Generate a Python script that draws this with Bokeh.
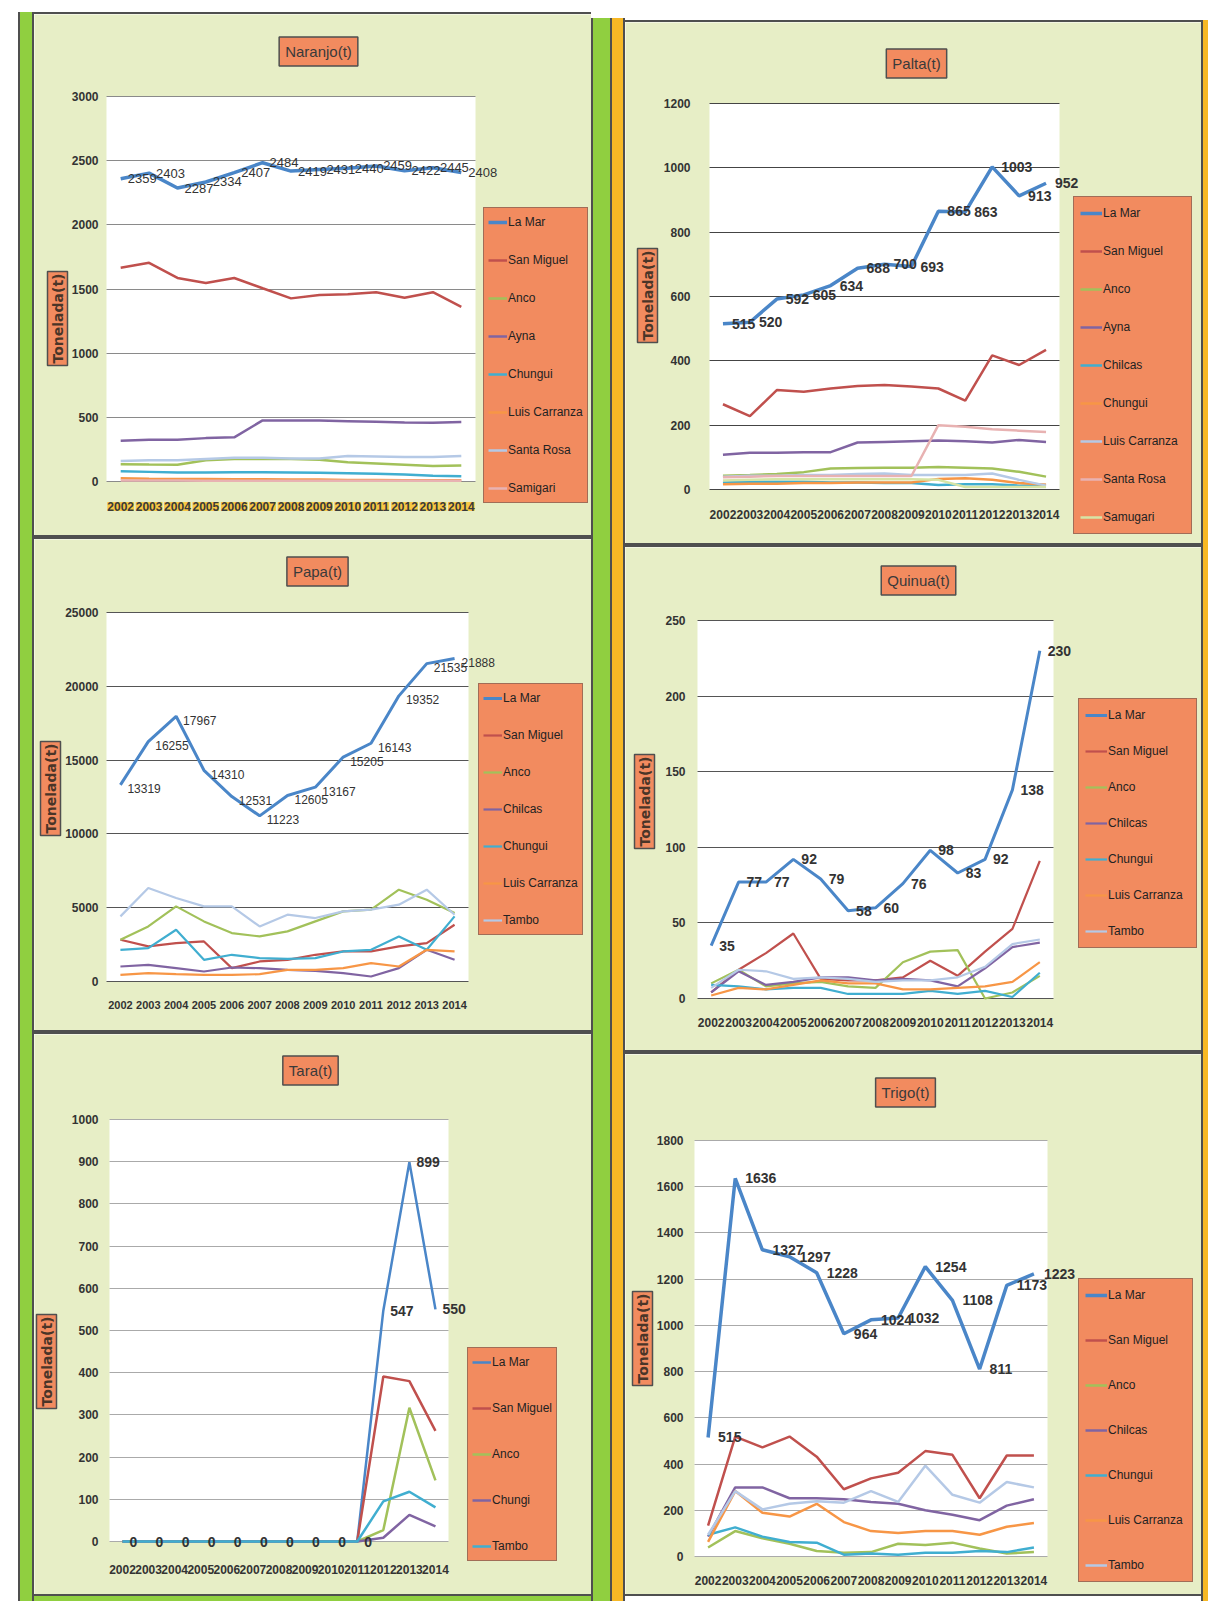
from math import pi
from bokeh.plotting import figure
from bokeh.models import (Range1d, FixedTicker, Label, LabelSet, ColumnDataSource,
                          Legend, LegendItem, Div, BoxAnnotation, Grid)
from bokeh.layouts import row, column
from bokeh.embed import file_html
from bokeh.resources import INLINE
from bokeh.core.properties import value

years = [2002, 2003, 2004, 2005, 2006, 2007, 2008, 2009, 2010, 2011, 2012, 2013, 2014]

# ---------------- Naranjo(t)
naranjo_names = ["La Mar", "San Miguel", "Anco", "Ayna", "Chungui", "Luis Carranza", "Santa Rosa", "Samigari"]
naranjo_la_mar = [2359, 2403, 2287, 2334, 2407, 2484, 2419, 2431, 2440, 2459, 2422, 2445, 2408]
naranjo_san_miguel = [1665, 1704, 1586, 1546, 1586, 1506, 1427, 1454, 1459, 1475, 1432, 1475, 1361]
naranjo_anco = [135, 132, 130, 165, 175, 175, 175, 170, 150, 140, 130, 120, 125]
naranjo_ayna = [317, 325, 325, 338, 344, 476, 476, 475, 470, 465, 460, 458, 463]
naranjo_chungui = [79, 75, 70, 70, 72, 72, 70, 68, 65, 60, 55, 45, 40]
naranjo_luis_carranza = [25, 22, 20, 20, 18, 18, 15, 15, 12, 12, 10, 10, 10]
naranjo_santa_rosa = [159, 165, 165, 175, 185, 185, 180, 180, 198, 195, 190, 190, 198]
naranjo_samigari = [8, 8, 7, 6, 6, 5, 5, 5, 5, 5, 5, 5, 5]
naranjo_yticks = [0, 500, 1000, 1500, 2000, 2500, 3000]

# ---------------- Palta(t)
palta_names = ["La Mar", "San Miguel", "Anco", "Ayna", "Chilcas", "Chungui", "Luis Carranza", "Santa Rosa", "Samugari"]
palta_la_mar = [515, 520, 592, 605, 634, 688, 700, 693, 865, 863, 1003, 913, 952]
palta_san_miguel = [265, 228, 309, 304, 314, 322, 325, 320, 314, 276, 417, 387, 434]
palta_anco = [43, 45, 48, 54, 65, 67, 68, 68, 70, 68, 65, 55, 40]
palta_ayna = [108, 114, 114, 116, 116, 146, 148, 150, 152, 150, 146, 154, 148]
palta_chilcas = [22, 24, 24, 24, 22, 22, 20, 20, 14, 16, 16, 12, 14]
palta_chungui = [16, 18, 18, 20, 20, 22, 22, 22, 33, 35, 30, 20, 15]
palta_luis_carranza = [40, 43, 43, 45, 45, 48, 50, 45, 45, 45, 50, 30, 12]
palta_santa_rosa = [38, 40, 42, 42, 42, 42, 42, 42, 200, 195, 187, 183, 179]
palta_samugari = [28, 30, 32, 32, 32, 32, 32, 32, 30, 8, 8, 8, 8]
palta_yticks = [0, 200, 400, 600, 800, 1000, 1200]

# ---------------- Papa(t)
papa_names = ["La Mar", "San Miguel", "Anco", "Chilcas", "Chungui", "Luis Carranza", "Tambo"]
papa_la_mar = [13319, 16255, 17967, 14310, 12531, 11223, 12605, 13167, 15205, 16143, 19352, 21535, 21888]
papa_san_miguel = [2828, 2376, 2602, 2715, 905, 1357, 1470, 1810, 2036, 2036, 2376, 2602, 3846]
papa_anco = [2828, 3733, 5090, 4072, 3281, 3054, 3394, 4072, 4751, 4864, 6222, 5543, 4638]
papa_chilcas = [1018, 1131, 905, 679, 950, 905, 792, 724, 566, 339, 905, 2149, 1470]
papa_chungui = [2149, 2262, 3507, 1470, 1810, 1584, 1538, 1584, 2036, 2149, 3054, 2149, 4412]
papa_luis_carranza = [452, 566, 498, 452, 452, 498, 792, 792, 905, 1244, 1018, 2149, 2036]
papa_tambo = [4412, 6335, 5656, 5090, 5090, 3733, 4525, 4299, 4751, 4864, 5204, 6222, 4525]
papa_yticks = [0, 5000, 10000, 15000, 20000, 25000]

# ---------------- Quinua(t)
quinua_names = ["La Mar", "San Miguel", "Anco", "Chilcas", "Chungui", "Luis Carranza", "Tambo"]
quinua_la_mar = [35, 77, 77, 92, 79, 58, 60, 76, 98, 83, 92, 138, 230]
quinua_san_miguel = [4, 19, 30, 43, 13, 12, 12, 14, 25, 15, 31, 46, 91]
quinua_anco = [10, 19, 8, 10, 11, 8, 7, 24, 31, 32, 0, 4, 15]
quinua_chilcas = [4, 18, 9, 11, 14, 14, 12, 13, 12, 8, 20, 34, 37]
quinua_chungui = [9, 8, 6, 7, 7, 3, 3, 3, 5, 3, 5, 1, 17]
quinua_luis_carranza = [2, 7, 6, 9, 12, 10, 10, 6, 6, 7, 8, 11, 24]
quinua_tambo = [7, 19, 18, 13, 14, 13, 11, 12, 12, 14, 21, 36, 39]
quinua_yticks = [0, 50, 100, 150, 200, 250]

# ---------------- Tara(t)
tara_names = ["La Mar", "San Miguel", "Anco", "Chungi", "Tambo"]
tara_la_mar = [0, 0, 0, 0, 0, 0, 0, 0, 0, 0, 547, 899, 550]
tara_san_miguel = [0, 0, 0, 0, 0, 0, 0, 0, 0, 0, 391, 380, 262]
tara_anco = [0, 0, 0, 0, 0, 0, 0, 0, 0, 0, 27, 317, 145]
tara_chungi = [0, 0, 0, 0, 0, 0, 0, 0, 0, 0, 9, 63, 36]
tara_tambo = [0, 0, 0, 0, 0, 0, 0, 0, 0, 0, 95, 118, 81]
tara_yticks = [0, 100, 200, 300, 400, 500, 600, 700, 800, 900, 1000]

# ---------------- Trigo(t)
trigo_names = ["La Mar", "San Miguel", "Anco", "Chilcas", "Chungui", "Luis Carranza", "Tambo"]
trigo_la_mar = [515, 1636, 1327, 1297, 1228, 964, 1024, 1032, 1254, 1108, 811, 1173, 1223]
trigo_san_miguel = [134, 519, 472, 519, 432, 291, 338, 362, 456, 440, 252, 437, 437]
trigo_anco = [39, 110, 79, 55, 24, 16, 19, 55, 50, 60, 35, 13, 19]
trigo_chilcas = [86, 299, 299, 252, 252, 248, 236, 228, 200, 181, 157, 220, 248]
trigo_chungui = [94, 126, 86, 63, 60, 8, 13, 8, 16, 16, 24, 19, 39]
trigo_luis_carranza = [63, 283, 189, 173, 228, 149, 110, 102, 110, 110, 94, 129, 145]
trigo_tambo = [94, 283, 204, 228, 239, 233, 283, 236, 393, 267, 233, 322, 299]
trigo_yticks = [0, 200, 400, 600, 800, 1000, 1200, 1400, 1600, 1800]

# ---------------- styles
PALETTE = ["#4a86c8", "#c0504d", "#a2c15a", "#8064a2", "#40aed0", "#f79646",
           "#b5c9e6", "#e8b2b2", "#d6e4a6"]
PANEL_BG = "#e7eec6"
ORANGE = "#f28b5f"
DARK = "#4f4f4f"
GREEN = "#90cf40"
GOLD = "#f7b825"
SANS = "Liberation Sans"
WIDE = "DejaVu Sans"
X0, X1 = 2001.5, 2014.5


def make_panel(title, names, series, yticks, geom, ann, st):
    W, H, fl, fr, ft, fb = geom
    ymax = yticks[-1]
    fw, fh = W - fl - fr, H - ft - fb
    xs, ys = (X1 - X0) / fw, ymax / fh
    p = figure(width=W, height=H, min_border=0, min_border_left=0, min_border_right=0,
               min_border_top=0, min_border_bottom=0,
               x_range=Range1d(X0 - fl * xs, X1 + fr * xs),
               y_range=Range1d(-fb * ys, ymax + ft * ys),
               output_backend="svg", toolbar_location=None, tools="")
    p.border_fill_color = PANEL_BG
    p.background_fill_color = PANEL_BG
    p.outline_line_color = None
    # white plot area
    p.add_layout(BoxAnnotation(left=X0, right=X1, bottom=0, top=ymax, fill_color="white",
                               fill_alpha=1.0, line_color=None, level="image"))
    p.xgrid.visible = False
    p.ygrid.ticker = FixedTicker(ticks=yticks)
    p.ygrid.grid_line_color = st["grid"]
    p.ygrid.grid_line_width = 1.2
    if "cross_bounds" in Grid.properties():
        p.ygrid.cross_bounds = (X0, X1)
    else:
        p.ygrid.visible = False
        p.segment(x0=[X0] * len(yticks), x1=[X1] * len(yticks), y0=yticks, y1=yticks,
                  line_color=st["grid"], line_width=1.2)

    p.yaxis.fixed_location = X0
    p.xaxis.fixed_location = 0
    p.yaxis.ticker = FixedTicker(ticks=yticks)
    p.xaxis.ticker = FixedTicker(ticks=years)
    p.xaxis.major_label_overrides = {y: str(y) for y in years}
    for ax in (p.xaxis, p.yaxis):
        ax.axis_line_color = None
        ax.major_tick_line_color = None
        ax.minor_tick_line_color = None
        ax.major_tick_in = 0
        ax.major_tick_out = 0
        ax.major_label_text_font = SANS
        ax.major_label_text_color = "#333333"
        ax.major_label_text_font_style = "bold"
    p.yaxis.major_label_text_font_size = st["ytick_size"]
    p.yaxis.major_label_standoff = st["ystand"]
    p.xaxis.major_label_text_font_size = st["xtick_size"]
    p.xaxis.major_label_standoff = st["xstand"]

    items = []
    for i, (name, vals) in enumerate(zip(names, series)):
        lw = st["lw0"] if i == 0 else st["lw"]
        r = p.line(years, vals, line_color=PALETTE[i], line_width=lw)
        items.append(LegendItem(label=name, renderers=[r]))

    # data labels of La Mar
    src = ColumnDataSource(dict(x=years, y=series[0], t=[str(v) for v in series[0]]))
    p.add_layout(LabelSet(x="x", y="y", text="t", source=src, x_offset=st["lx"], y_offset=st["ly"],
                          text_align="left", text_baseline="middle",
                          text_font=value(SANS), text_font_size=st["lab_size"],
                          text_font_style=st["lab_style"], text_color="#333333"))

    if st.get("yellow_years"):
        p.xaxis.major_label_text_color = None
        ysrc = ColumnDataSource(dict(x=years, t=[str(y) for y in years]))
        p.add_layout(LabelSet(x="x", y=fb + st["yellow_y"], y_units="screen", text="t", source=ysrc,
                              text_align="center", text_baseline="middle",
                              text_font=value(SANS), text_font_size="12px",
                              text_font_style="bold", text_color="#3a3a3a",
                              background_fill_color="#f7c844"))

    lx, ly, lspace, lwid, lpad, lgw = ann["legend"]
    leg = Legend(items=items, location=(fl + lx, fb + ly), orientation="vertical",
                 background_fill_color=ORANGE, background_fill_alpha=1.0,
                 border_line_color=DARK, border_line_width=1.5,
                 label_text_font=SANS, label_text_font_size="12px",
                 label_text_color="#222222",
                 glyph_width=lgw, glyph_height=20, label_height=20,
                 label_standoff=1, spacing=lspace, padding=lpad, margin=0,
                 label_width=lwid)
    p.add_layout(leg)

    tx, ty = ann["title"]
    p.add_layout(Label(x=fl + tx, y=fb + ty, x_units="screen", y_units="screen", text=title,
                       text_align="center", text_baseline="middle",
                       text_font=SANS, text_font_size="15px", text_color="#3a3a3a",
                       background_fill_color=ORANGE, border_line_color=DARK,
                       border_line_width=1.5, padding=6))
    yx, yy = ann["ylabel"]
    p.add_layout(Label(x=fl + yx - 5, y=fb + yy, x_units="screen", y_units="screen", text="Tonelada(t)",
                       angle=pi / 2, text_align="center", text_baseline="middle",
                       text_font=WIDE, text_font_size="14px", text_font_style="bold",
                       text_color="#4a3528",
                       background_fill_color=ORANGE, border_line_color=DARK,
                       border_line_width=1.5, padding=2))
    return p


common = dict(lw0=3.5, lw=2.5, ytick_size="12px", xtick_size="12px", lx=7, ly=0,
              lab_size="14px", lab_style="bold")

naranjo = make_panel(
    "Naranjo(t)", naranjo_names,
    [naranjo_la_mar, naranjo_san_miguel, naranjo_anco, naranjo_ayna, naranjo_chungui,
     naranjo_luis_carranza, naranjo_santa_rosa, naranjo_samigari],
    naranjo_yticks, (557, 521, 72, 116, 82, 54),
    dict(title=(212, 430), ylabel=(-44, 163), legend=(377, -22, 18, 60, 4, 19)),
    dict(common, grid="#8a8a8a", ystand=8, xstand=20, lab_style="normal", lab_size="13px",
         yellow_years=True, yellow_y=-25))

papa = make_panel(
    "Papa(t)", papa_names,
    [papa_la_mar, papa_san_miguel, papa_anco, papa_chilcas, papa_chungui,
     papa_luis_carranza, papa_tambo],
    papa_yticks, (557, 491, 72, 123, 73, 49),
    dict(title=(211, 410), ylabel=(-51, 193), legend=(372, 46, 17, 60, 4, 19)),
    dict(common, grid="#555555", ystand=8, xstand=19, lw0=3, lw=2.2,
         xtick_size="11px", lab_style="normal", lab_size="12px", ly=-4))

tara = make_panel(
    "Tara(t)", tara_names,
    [tara_la_mar, tara_san_miguel, tara_anco, tara_chungi, tara_tambo],
    tara_yticks, (557, 560, 75, 143, 85, 53),
    dict(title=(201, 471), ylabel=(-58, 180), legend=(358, -20, 26, 60, 4, 19)),
    dict(common, grid="#aaaaaa", ystand=11, xstand=23, lw0=2.5, lw=2.5))

palta = make_panel(
    "Palta(t)", palta_names,
    [palta_la_mar, palta_san_miguel, palta_anco, palta_ayna, palta_chilcas,
     palta_chungui, palta_luis_carranza, palta_santa_rosa, palta_samugari],
    palta_yticks, (576, 521, 84, 142, 81, 54),
    dict(title=(207, 426), ylabel=(-57, 194), legend=(364, -45, 18, 82, 6, 22)),
    dict(common, grid="#444444", ystand=19, xstand=20, lx=9))

quinua = make_panel(
    "Quinua(t)", quinua_names,
    [quinua_la_mar, quinua_san_miguel, quinua_anco, quinua_chilcas, quinua_chungui,
     quinua_luis_carranza, quinua_tambo],
    quinua_yticks, (576, 503, 72, 148, 73, 52),
    dict(title=(221, 418), ylabel=(-48, 197), legend=(381, 50, 16, 82, 6, 22)),
    dict(common, grid="#555555", ystand=12, xstand=19, lw0=3, lw=2.2, lx=8))

trigo = make_panel(
    "Trigo(t)", trigo_names,
    [trigo_la_mar, trigo_san_miguel, trigo_anco, trigo_chilcas, trigo_chungui,
     trigo_luis_carranza, trigo_tambo],
    trigo_yticks, (576, 540, 69, 154, 86, 38),
    dict(title=(211, 464), ylabel=(-47, 218), legend=(384, -26, 25, 78, 6, 22)),
    dict(common, grid="#aaaaaa", ystand=11, xstand=19, lx=10))

TOTAL_H = 1601


def bar(w, stops, top_white):
    grad = ", ".join(f"{c} {a}px, {c} {b}px" for c, a, b in stops)
    bg = (f"linear-gradient(to bottom, #ffffff 0px, #ffffff {top_white}px, rgba(0,0,0,0) {top_white}px), "
          f"linear-gradient(to right, {grad})")
    return Div(text="", width=w, height=TOTAL_H, margin=0, styles={"background": bg})


def hline(w, h, color):
    return Div(text="", width=w, height=h, margin=0, styles={"background": color})


left_col = column(hline(557, 12, "#ffffff"), hline(557, 2, DARK), naranjo, hline(557, 4, DARK),
                  papa, hline(557, 4, DARK), tara, hline(557, 2, DARK), hline(557, 5, GREEN),
                  spacing=0)
right_col = column(hline(576, 20, "#ffffff"), hline(576, 2, DARK), palta, hline(576, 4, DARK),
                   quinua, hline(576, 4, DARK), trigo, hline(576, 2, DARK), hline(576, 5, "#ffffff"),
                   spacing=0)

layout = row(
    hline(18, TOTAL_H, "#ffffff"),
    bar(16, [(DARK, 0, 2), (GREEN, 2, 14), (DARK, 14, 16)], 12),
    left_col,
    bar(34, [(DARK, 0, 2), (GREEN, 2, 19), (DARK, 19, 21), (GOLD, 21, 32), (DARK, 32, 34)], 18),
    right_col,
    bar(7, [(DARK, 0, 2), (GOLD, 2, 7)], 20),
    spacing=0)

open("out.html", "w").write(file_html(layout, INLINE))
